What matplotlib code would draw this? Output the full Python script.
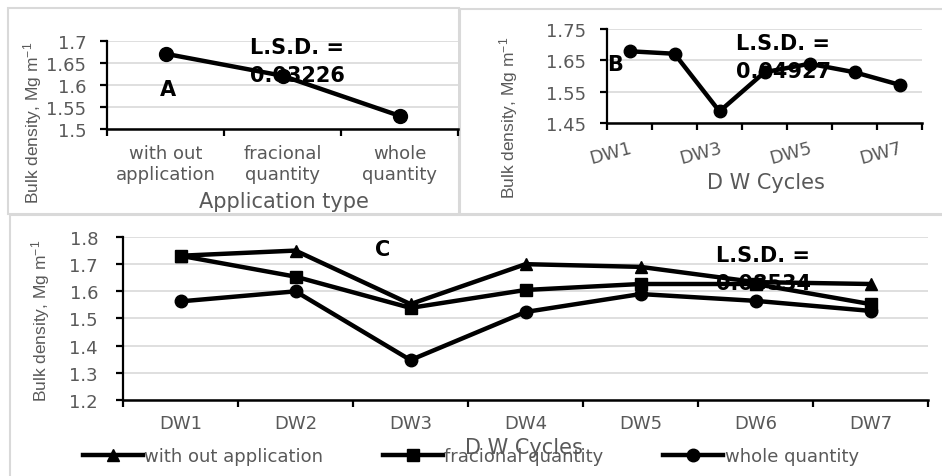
import matplotlib
matplotlib.use("Agg")
import matplotlib.pyplot as plt
import matplotlib.patches as mpatches
import numpy as np

# ── Data ─────────────────────────────────────────────────────────────────────
app_types = ["with out\napplication", "fracional\nquantity", "whole\nquantity"]
bd_app = [1.671, 1.621, 1.530]

cycles = ["DW1", "DW2", "DW3", "DW4", "DW5", "DW6", "DW7"]
bd_cycles = [1.679, 1.671, 1.487, 1.612, 1.639, 1.612, 1.572]

series_names = ["with out application", "fracional quantity", "whole quantity"]
bd_without = [1.731, 1.750, 1.553, 1.700, 1.690, 1.634, 1.627]
bd_frac    = [1.731, 1.654, 1.539, 1.605, 1.627, 1.627, 1.553]
bd_whole   = [1.563, 1.600, 1.347, 1.524, 1.590, 1.565, 1.528]

lsd_a, lsd_b, lsd_c = "0.03226", "0.04927", "0.08534"

# ── Style ────────────────────────────────────────────────────────────────────
plt.rcParams["font.family"] = ["DejaVu Sans"]
plt.rcParams["mathtext.default"] = "regular"
GRID = "#d9d9d9"
TXT = "#595959"
W, H = 942, 477
YLAB_FONT = ["Liberation Sans Narrow", "Liberation Sans", "DejaVu Sans"]
ylab = "Bulk density, Mg m$^{-1}$"
TICK_FS = 13
TITLE_FS = 15
NOTE_FS = 15

fig = plt.figure(figsize=(W / 100, H / 100), dpi=100)


def fx(px):
    return px / W


def fy(py):
    return 1 - py / H


def make_ax(x0, y0, x1, y1):
    return fig.add_axes([fx(x0), fy(y1), fx(x1 - x0), (y1 - y0) / H])


def style(ax, n, ymin, ymax, step, ypad=10):
    ax.set_xlim(-0.5, n - 0.5)
    ax.set_ylim(ymin, ymax)
    ax.set_yticks(np.arange(ymin, ymax + step / 2, step))
    ax.yaxis.grid(True, color=GRID, linewidth=1.2, zorder=0)
    ax.set_axisbelow(True)
    for s in ("top", "right"):
        ax.spines[s].set_visible(False)
    ax.spines["left"].set_linewidth(1.6)
    ax.spines["bottom"].set_linewidth(1.8)
    ax.set_xticks(np.arange(n))
    ax.set_xticks(np.arange(n + 1) - 0.5, minor=True)
    ax.tick_params(axis="x", which="major", length=0, labelsize=TICK_FS,
                   labelcolor=TXT)
    ax.tick_params(axis="x", which="minor", length=5, width=1.6,
                   direction="out")
    ax.tick_params(axis="y", length=5, width=1.6, direction="out",
                   labelsize=TICK_FS, labelcolor=TXT, pad=ypad)


def panel_border(x0, y0, x1, y1):
    r = mpatches.Rectangle((fx(x0), fy(y1)), fx(x1 - x0), (y1 - y0) / H,
                           transform=fig.transFigure, fill=False,
                           edgecolor=GRID, linewidth=1.5, zorder=-5)
    fig.add_artist(r)


def note(ax, x, y, s):
    ax.text(fx(x), fy(y), s, transform=fig.transFigure, fontsize=NOTE_FS,
            fontweight="bold", ha="left", va="center", linespacing=1.45,
            zorder=1)


panel_border(8, 9, 459, 215)
panel_border(460, 10, 950, 215)
panel_border(10, 216, 950, 490)

# ── Panel A ──────────────────────────────────────────────────────────────────
axa = make_ax(107, 42, 458, 130)
style(axa, 3, 1.5, 1.7, 0.05)
axa.yaxis.set_major_formatter(plt.FuncFormatter(lambda v, p: f"{v:g}"))
axa.plot(range(3), bd_app, color="black", lw=3.2, marker="o", ms=10, zorder=3)
axa.set_xticklabels(app_types)
axa.tick_params(axis="x", which="major", pad=11)
axa.set_xlabel("Application type", fontsize=TITLE_FS, color=TXT, va="center")
axa.xaxis.set_label_coords(fx(284), fy(202), transform=fig.transFigure)
axa.set_ylabel(ylab, fontsize=12.5, color=TXT, va="center", family=YLAB_FONT)
axa.yaxis.set_label_coords(fx(33), fy(123), transform=fig.transFigure)
note(axa, 160, 90, "A")
note(axa, 250, 62, "L.S.D. =\n" + lsd_a)

# ── Panel B ──────────────────────────────────────────────────────────────────
axb = make_ax(607, 30, 922, 124)
style(axb, 7, 1.45, 1.75, 0.1)
axb.yaxis.set_major_formatter(plt.FuncFormatter(lambda v, p: f"{v:.2f}"))
axb.plot(range(7), bd_cycles, color="black", lw=3.2, marker="o", ms=9, zorder=3)
axb.set_xticks([0, 2, 4, 6])
axb.set_xticklabels([cycles[i] for i in (0, 2, 4, 6)], rotation=15,
                    ha="right", rotation_mode="anchor")
axb.tick_params(axis="x", which="major", pad=11)
axb.set_xlabel("D W Cycles", fontsize=TITLE_FS, color=TXT, va="center")
axb.xaxis.set_label_coords(fx(766), fy(183), transform=fig.transFigure)
axb.set_ylabel(ylab, fontsize=12.5, color=TXT, va="center", family=YLAB_FONT)
axb.yaxis.set_label_coords(fx(509), fy(118), transform=fig.transFigure)
note(axb, 607, 65, "B")
note(axb, 736, 58, "L.S.D. =\n" + lsd_b)

# ── Panel C ──────────────────────────────────────────────────────────────────
axc = make_ax(123, 238, 928, 401)
style(axc, 7, 1.2, 1.8, 0.1, ypad=13)
axc.yaxis.set_major_formatter(plt.FuncFormatter(lambda v, p: f"{v:.1f}"))
x = np.arange(len(cycles))
axc.plot(x, bd_without, color="black", lw=3.2, marker="^", ms=9, zorder=3,
         label=series_names[0])
axc.plot(x, bd_frac, color="black", lw=3.2, marker="s", ms=9, zorder=3,
         label=series_names[1])
axc.plot(x, bd_whole, color="black", lw=3.2, marker="o", ms=9, zorder=3,
         label=series_names[2])
axc.set_xticklabels(cycles)
axc.tick_params(axis="x", which="major", pad=10)
axc.set_xlabel("D W Cycles", fontsize=TITLE_FS, color=TXT, va="center")
axc.xaxis.set_label_coords(fx(524), fy(448), transform=fig.transFigure)
axc.set_ylabel(ylab, fontsize=12.5, color=TXT, va="center", family=YLAB_FONT)
axc.yaxis.set_label_coords(fx(41), fy(321), transform=fig.transFigure)
note(axc, 375, 250, "C")
note(axc, 716, 270, "L.S.D. =\n" + lsd_c)

leg = axc.legend(loc="center left", bbox_to_anchor=(fx(83), fy(457)),
                 bbox_transform=fig.transFigure, ncol=3, frameon=False,
                 fontsize=13, handlelength=3.3, handletextpad=0.1,
                 columnspacing=3.3, borderpad=0, borderaxespad=0)
for t in leg.get_texts():
    t.set_color(TXT)

fig.savefig("out.png", dpi=100)
